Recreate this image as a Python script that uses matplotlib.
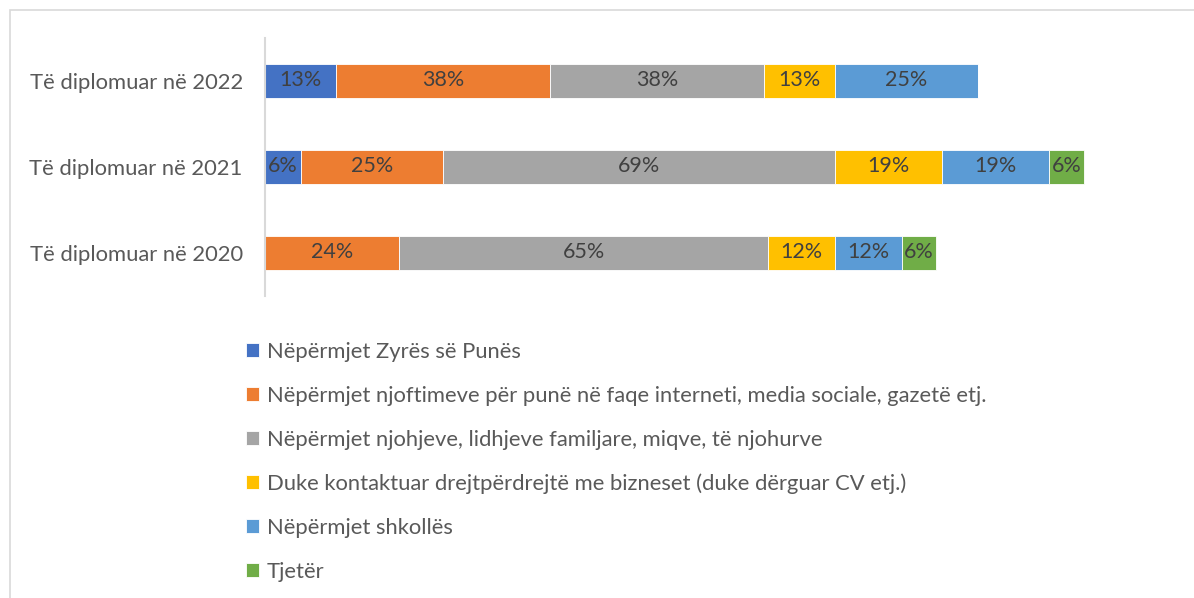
import numpy as np
import matplotlib.pyplot as plt
from matplotlib.patches import Rectangle

plt.rcParams['font.family'] = ['Lato', 'DejaVu Sans']

# categories (bottom to top)
years = ['Të diplomuar në 2020', 'Të diplomuar në 2021', 'Të diplomuar në 2022']

series_names = [
    'Nëpërmjet Zyrës së Punës',
    'Nëpërmjet njoftimeve për punë në faqe interneti, media sociale, gazetë etj.',
    'Nëpërmjet njohjeve, lidhjeve familjare, miqve, të njohurve',
    'Duke kontaktuar drejtpërdrejtë me bizneset (duke dërguar CV etj.)',
    'Nëpërmjet shkollës',
    'Tjetër',
]

# values per series, order: 2020, 2021, 2022
zyra = [0, 6.25, 12.5]
njoftime = [23.53, 25.0, 37.5]
njohje = [64.71, 68.75, 37.5]
biznese = [11.76, 18.75, 12.5]
shkolla = [11.76, 18.75, 25.0]
tjeter = [5.88, 6.25, 0]

colors = ['#4472c4', '#ed7d31', '#a5a5a5', '#ffc000', '#5b9bd5', '#70ad47']
series = [zyra, njoftime, njohje, biznese, shkolla, tjeter]

fig = plt.figure(figsize=(11.94, 5.98), dpi=100)
# light frame around the chart area
fig.patches.append(Rectangle((10 / 1194, -0.1), 1.2, 1 - 10 / 598 + 0.1,
                             transform=fig.transFigure, fill=False,
                             edgecolor='#d9d9d9', linewidth=1.2))

ax = fig.add_axes([265 / 1194, 1 - 296 / 598, 912 / 1194, 258 / 598])

y = np.arange(len(years))
left = np.zeros(len(years))
handles = []
for name, vals, c in zip(series_names, series, colors):
    vals = np.array(vals, dtype=float)
    b = ax.barh(y, vals, left=left, height=0.4, color=c, edgecolor='white',
                linewidth=0.6, label=name)
    handles.append(b)
    for yi, v, l in zip(y, vals, left):
        if v > 0:
            ax.text(l + v / 2, yi + 0.01, '%d%%' % int(v + 0.5), ha='center',
                    va='center', fontsize=15.5, color='#404040')
    left += vals

ax.set_xlim(0, 160)
ax.set_ylim(-0.5, 2.5)
ax.set_yticks(y)
ax.set_yticklabels(years, fontsize=15.8, color='#595959')
ax.tick_params(axis='y', length=0, pad=16)
ax.set_xticks([])
for s in ['top', 'right', 'bottom']:
    ax.spines[s].set_visible(False)
ax.spines['left'].set_color('#d9d9d9')
ax.spines['left'].set_linewidth(1.5)

leg = fig.legend(handles=handles, loc='upper left',
                 bbox_to_anchor=(226 / 1194, 1 - 322 / 598), frameon=False,
                 fontsize=15.8, handlelength=0.6, handleheight=0.6,
                 handletextpad=0.35, labelspacing=1.09)
for t in leg.get_texts():
    t.set_color('#595959')

fig.savefig('out.png', dpi=100)
